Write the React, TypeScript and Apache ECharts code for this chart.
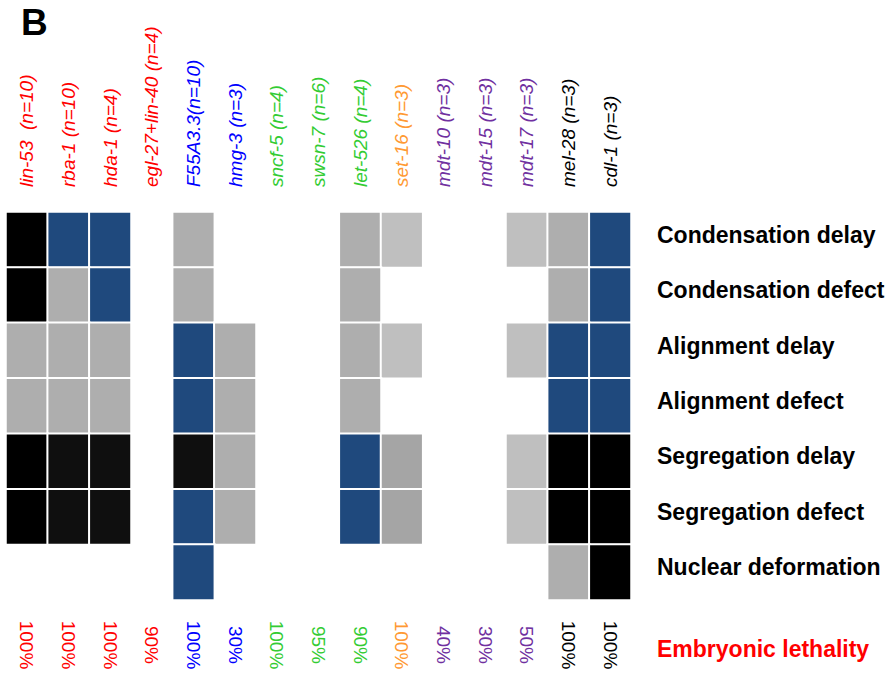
import React, { useEffect, useRef } from "react";
import * as echarts from "echarts";

// ---- data ----
const genes = [
  "lin-53  (n=10)",
  "rba-1 (n=10)",
  "hda-1 (n=4)",
  "egl-27+lin-40 (n=4)",
  "F55A3.3(n=10)",
  "hmg-3 (n=3)",
  "sncf-5 (n=4)",
  "swsn-7 (n=6)",
  "let-526 (n=4)",
  "set-16 (n=3)",
  "mdt-10 (n=3)",
  "mdt-15 (n=3)",
  "mdt-17 (n=3)",
  "mel-28 (n=3)",
  "cdl-1 (n=3)",
];

const lethality = [
  "100%", "100%", "100%", "90%", "100%", "30%", "100%", "95%",
  "90%", "100%", "40%", "30%", "50%", "100%", "100%",
];

const phenotypes = [
  "Condensation delay",
  "Condensation defect",
  "Alignment delay",
  "Alignment defect",
  "Segregation delay",
  "Segregation defect",
  "Nuclear deformation",
];

// severity codes: 0 none, 1 light gray, 2 gray, 3 dark gray, 4 blue, 5 near black, 6 black
const condensationDelay =  [6, 4, 4, 0, 2, 0, 0, 0, 2, 1, 0, 0, 1, 2, 4];
const condensationDefect = [6, 2, 4, 0, 2, 0, 0, 0, 2, 0, 0, 0, 0, 2, 4];
const alignmentDelay =     [2, 2, 2, 0, 4, 2, 0, 0, 2, 1, 0, 0, 1, 4, 4];
const alignmentDefect =    [2, 2, 2, 0, 4, 2, 0, 0, 2, 0, 0, 0, 0, 4, 4];
const segregationDelay =   [6, 5, 5, 0, 5, 2, 0, 0, 4, 3, 0, 0, 1, 6, 6];
const segregationDefect =  [6, 5, 5, 0, 4, 2, 0, 0, 4, 3, 0, 0, 1, 6, 6];
const nuclearDeformation = [0, 0, 0, 0, 4, 0, 0, 0, 0, 0, 0, 0, 0, 2, 6];

const matrix = [
  condensationDelay,
  condensationDefect,
  alignmentDelay,
  alignmentDefect,
  segregationDelay,
  segregationDefect,
  nuclearDeformation,
];

// ---- styles ----
const RED = "#ff0000";
const BLUE = "#0000ff";
const GREEN = "#33cc33";
const ORANGE = "#ff9933";
const PURPLE = "#7030a0";
const BLACK = "#000000";
const labelColors = [
  RED, RED, RED, RED, BLUE, BLUE, GREEN, GREEN, GREEN, ORANGE,
  PURPLE, PURPLE, PURPLE, BLACK, BLACK,
];
const codeColors: Record<number, string> = {
  1: "#bfbfbf",
  2: "#aeaeae",
  3: "#a5a5a5",
  4: "#1f497d",
  5: "#0f0f0f",
  6: "#000000",
};

const FONT = "'Liberation Sans', Arial, sans-serif";

export default function App() {
  const ref = useRef<HTMLDivElement>(null);
  useEffect(() => {
    if (!ref.current) return;
    const chart = echarts.init(ref.current, null, { renderer: "svg" });
    const data: any[] = [];
    matrix.forEach((row, r) => {
      row.forEach((v, c) => {
        if (v > 0) data.push([c, r, v]);
      });
    });
    chart.setOption({
      animation: false,
      backgroundColor: "#ffffff",
      textStyle: { fontFamily: FONT },
      grid: { left: 6, right: 262, top: 212, bottom: 82, containLabel: false },
      xAxis: [
        {
          type: "category",
          data: genes,
          position: "top",
          axisLine: { show: false },
          axisTick: { show: false },
          splitLine: { show: false },
          axisLabel: {
            rotate: -90,
            interval: 0,
            margin: 25,
            align: "left",
            verticalAlign: "middle",
            fontSize: 19,
            fontStyle: "italic",
            fontFamily: FONT,
            color: (_v: any, i: number) => labelColors[i],
          },
        },
        {
          type: "category",
          data: lethality,
          position: "bottom",
          axisLine: { show: false },
          axisTick: { show: false },
          splitLine: { show: false },
          axisLabel: {
            rotate: -90,
            interval: 0,
            margin: 45,
            align: "center",
            verticalAlign: "middle",
            fontSize: 19,
            fontFamily: FONT,
            color: (_v: any, i: number) => labelColors[i],
          },
        },
      ],
      yAxis: {
        type: "category",
        data: phenotypes,
        inverse: true,
        position: "right",
        axisLine: { show: false },
        axisTick: { show: false },
        splitLine: { show: false },
        axisLabel: {
          margin: 26,
          fontSize: 23,
          fontWeight: "bold",
          fontFamily: FONT,
          color: "#000",
          verticalAlign: "bottom",
          lineHeight: 10,
        },
      },
      visualMap: {
        type: "piecewise",
        show: false,
        dimension: 2,
        seriesIndex: 0,
        pieces: Object.keys(codeColors).map((k) => ({
          value: Number(k),
          color: codeColors[Number(k)],
        })),
      },
      series: [
        {
          type: "heatmap",
          xAxisIndex: 0,
          yAxisIndex: 0,
          data,
          itemStyle: { borderColor: "#ffffff", borderWidth: 2 },
          emphasis: { disabled: true },
        },
      ],
      graphic: [
        {
          type: "text",
          left: 21,
          top: 4,
          style: {
            text: "B",
            fontSize: 37,
            fontWeight: "bold",
            fontFamily: FONT,
            fill: "#000",
          },
        },
        {
          type: "text",
          left: 657,
          top: 637,
          style: {
            text: "Embryonic lethality",
            fontSize: 23,
            fontWeight: "bold",
            fontFamily: FONT,
            fill: RED,
          },
        },
      ],
    });
    return () => chart.dispose();
  }, []);
  return (
    <div
      ref={ref}
      style={{ position: "absolute", left: 0, top: 0, width: 893, height: 682 }}
    />
  );
}
